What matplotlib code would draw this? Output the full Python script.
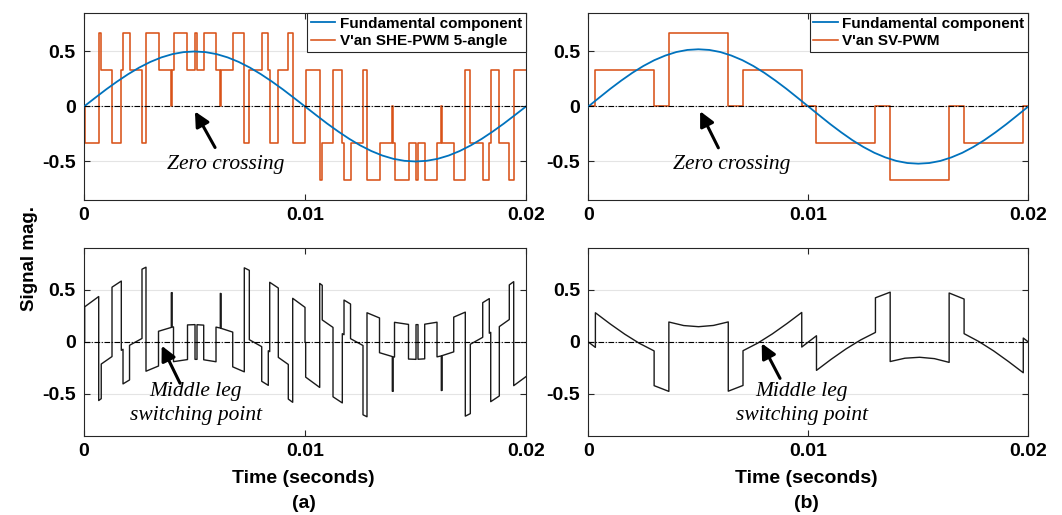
import numpy as np
import matplotlib
matplotlib.use("Agg")
import matplotlib.pyplot as plt

plt.rcParams["font.family"] = ["Liberation Sans", "DejaVu Sans"]
plt.rcParams["axes.unicode_minus"] = False

BLUE = "#0072BD"
ORANGE = "#D95319"

fund_t = np.linspace(0, 20, 41)
fund_a = [0.000, 0.078, 0.155, 0.227, 0.294, 0.354, 0.405, 0.446, 0.476, 0.494,
          0.500, 0.494, 0.476, 0.446, 0.405, 0.354, 0.294, 0.227, 0.155, 0.078,
          0.000, -0.078, -0.155, -0.227, -0.294, -0.354, -0.405, -0.446, -0.476, -0.494,
          -0.500, -0.494, -0.476, -0.446, -0.405, -0.354, -0.294, -0.227, -0.155, -0.078, 0.000]
fund_b = [0.000, 0.081, 0.161, 0.236, 0.306, 0.368, 0.421, 0.463, 0.495, 0.514,
          0.520, 0.514, 0.495, 0.463, 0.421, 0.368, 0.306, 0.236, 0.161, 0.081,
          0.000, -0.081, -0.161, -0.236, -0.306, -0.368, -0.421, -0.463, -0.495, -0.514,
          -0.520, -0.514, -0.495, -0.463, -0.421, -0.368, -0.306, -0.236, -0.161, -0.081, 0.000]

# (a) SHE-PWM 5-angle: switching instants (ms) and phase voltage level per interval
she_t = [0, 0.03, 0.665, 0.78, 1.267, 1.688, 1.765, 2.06, 2.624, 2.805, 3.371, 3.95, 3.99,
         4.05, 4.683, 5.023, 5.113, 5.416, 5.973, 6.167, 6.207, 6.729, 7.253, 7.48, 8.041,
         8.339, 8.403, 8.792, 9.244, 9.443, 10.0,
         10.03, 10.665, 10.78, 11.267, 11.688, 11.765, 12.06, 12.624, 12.805, 13.371, 13.95,
         13.99, 14.05, 14.683, 15.023, 15.113, 15.416, 15.973, 16.167, 16.207, 16.729, 17.253,
         17.48, 18.041, 18.339, 18.403, 18.792, 19.244, 19.443, 20.0]
she_level = [0, -0.333, 0.667, 0.333, -0.333, 0.333, 0.667, 0.333, -0.333, 0.667, 0.333, 0,
             0.333, 0.667, 0.333, 0.667, 0.333, 0.667, 0.333, 0, 0.333, 0.667, -0.333, 0.333,
             0.667, 0.333, -0.333, 0.333, 0.667, -0.333,
             0, 0.333, -0.667, -0.333, 0.333, -0.333, -0.667, -0.333, 0.333, -0.667, -0.333, 0,
             -0.333, -0.667, -0.333, -0.667, -0.333, -0.667, -0.333, 0, -0.333, -0.667, 0.333,
             -0.333, -0.667, -0.333, 0.333, -0.333, -0.667, 0.333]
# (a) middle leg signal: value at start / end of each interval above
mid_a_start = [0.0, 0.338, -0.563, -0.212, 0.527, -0.080, -0.403, -0.032, 0.700, -0.281,
               0.103, 0.473, 0.142, -0.189, 0.164, -0.167, 0.166, -0.171, 0.143, 0.467,
               0.131, -0.239, 0.713, 0.022, -0.378, -0.084, 0.574, -0.148, -0.549, 0.420,
               0.0, -0.338, 0.563, 0.212, -0.527, 0.080, 0.403, 0.032, -0.700, 0.281,
               -0.103, -0.473, -0.142, 0.189, -0.164, 0.167, -0.166, 0.171, -0.143, -0.467,
               -0.131, 0.239, -0.713, -0.022, 0.378, 0.084, -0.574, 0.148, 0.549, -0.420]
mid_a_end = [0.005, 0.437, -0.545, -0.140, 0.586, -0.070, -0.365, 0.034, 0.719, -0.231,
             0.140, 0.475, 0.145, -0.169, 0.167, -0.167, 0.162, -0.190, 0.134, 0.465,
             0.095, -0.287, 0.689, -0.045, -0.417, -0.093, 0.519, -0.216, -0.580, 0.333,
             -0.005, -0.437, 0.545, 0.140, -0.586, 0.070, 0.365, -0.034, -0.719, 0.231,
             -0.140, -0.475, -0.145, 0.169, -0.167, 0.167, -0.162, 0.190, -0.134, -0.465,
             -0.095, 0.287, -0.689, 0.045, 0.417, 0.093, -0.519, 0.216, 0.580, -0.333]

# (b) SV-PWM
sv_t = [0, 0.32, 2.99, 3.66, 6.36, 7.03, 9.70, 10.37, 13.05, 13.72, 16.40, 17.08, 19.77, 20.0]
sv_level = [0, 0.333, 0, 0.667, 0, 0.333, 0, -0.333, 0, -0.667, 0, -0.333, 0]
mid_b_t = [0, 0.32, 0.32, 0.99, 1.655, 2.32, 2.99, 2.99, 3.66, 3.66, 4.335, 5.01, 5.685, 6.36,
           6.36, 7.03, 7.03, 7.6975, 8.365, 9.0325, 9.70, 9.70, 10.0, 10.37, 10.37, 11.04,
           11.71, 12.38, 13.05, 13.05, 13.72, 13.72, 14.39, 15.06, 15.73, 16.40, 16.40, 17.08,
           17.08, 17.7525, 18.425, 19.0975, 19.77, 19.77, 20.0]
mid_b_v = [0, -0.052, 0.281, 0.174, 0.075, -0.013, -0.086, -0.420, -0.475, 0.192, 0.158,
           0.147, 0.159, 0.193, -0.473, -0.418, -0.084, -0.011, 0.078, 0.178, 0.284, -0.049,
           0.0, 0.060, -0.273, -0.166, -0.067, 0.020, 0.092, 0.425, 0.479, -0.188, -0.156,
           -0.147, -0.160, -0.196, 0.471, 0.413, 0.080, 0.004, -0.086, -0.188, -0.296, 0.038, 0.0]

TICK_FS = 14
NOTE_FS = 15.5
SERIF = ["Liberation Serif", "DejaVu Serif"]


def style(ax, ylim):
    ax.set_xlim(0, 0.02)
    ax.set_ylim(*ylim)
    ax.set_xticks([0, 0.01, 0.02])
    ax.set_xticklabels(["0", "0.01", "0.02"])
    ax.set_yticks([-0.5, 0, 0.5])
    ax.set_yticklabels(["-0.5", "0", "0.5"])
    ax.yaxis.grid(True, color="#e4e4e4", lw=0.8)
    ax.set_axisbelow(True)
    ax.tick_params(direction="in", top=True, right=True, length=4, width=0.8,
                   labelsize=TICK_FS, color="#262626")
    ax.tick_params(axis="x", pad=5)
    ax.tick_params(axis="y", pad=6)
    for lab in ax.get_xticklabels() + ax.get_yticklabels():
        lab.set_fontweight("bold")
    for s in ax.spines.values():
        s.set_color("#262626")
        s.set_linewidth(0.8)
    ax.plot([0, 0.02], [0, 0], color="k", lw=0.8, linestyle=(0, (5, 1.5, 1, 1.5)), zorder=4)


def arrow(ax, head, tail):
    ax.annotate("", xy=head, xytext=tail,
                arrowprops=dict(arrowstyle="-|>", color="k", lw=2.2, mutation_scale=22,
                                shrinkA=0, shrinkB=0), zorder=6)


def legend(ax):
    leg = ax.legend(loc="upper right", borderaxespad=0, fancybox=False, edgecolor="#262626",
                    framealpha=1, prop=dict(weight="bold", size=11), handlelength=1.6,
                    handletextpad=0.3, labelspacing=0.2, borderpad=0.25)
    leg.get_frame().set_linewidth(0.8)
    leg.set_zorder(10)


fig = plt.figure(figsize=(10.62, 5.15), dpi=100)
ax_a1 = fig.add_axes([0.0791, 0.6117, 0.4162, 0.3631])
ax_b1 = fig.add_axes([0.5540, 0.6117, 0.4143, 0.3631])
ax_a2 = fig.add_axes([0.0791, 0.1542, 0.4162, 0.3635])
ax_b2 = fig.add_axes([0.5540, 0.1542, 0.4143, 0.3635])

ft = fund_t / 1000

# (a) top
ta = np.array(she_t) / 1000
ax_a1.plot(ft, fund_a, color=BLUE, lw=1.3, label="Fundamental component", zorder=3)
ax_a1.step(ta, she_level + [she_level[-1]], where="post", color=ORANGE, lw=1.15,
           label="V'an SHE-PWM 5-angle", zorder=2)
style(ax_a1, (-0.85, 0.85))
legend(ax_a1)
arrow(ax_a1, (0.00502, -0.045), (0.00593, -0.373))
ax_a1.text(0.00643, -0.527, "Zero crossing", family=SERIF, style="italic", size=NOTE_FS,
           ha="center", va="center")

# (b) top
tb = np.array(sv_t) / 1000
ax_b1.plot(ft, fund_b, color=BLUE, lw=1.3, label="Fundamental component", zorder=3)
ax_b1.step(tb, sv_level + [sv_level[-1]], where="post", color=ORANGE, lw=1.15,
           label="V'an SV-PWM", zorder=2)
style(ax_b1, (-0.85, 0.85))
legend(ax_b1)
arrow(ax_b1, (0.00508, -0.043), (0.00591, -0.376))
ax_b1.text(0.00651, -0.527, "Zero crossing", family=SERIF, style="italic", size=NOTE_FS,
           ha="center", va="center")

# (a) bottom
xs = np.repeat(ta, 2)[1:-1]
ys = np.column_stack([mid_a_start, mid_a_end]).ravel()
ax_a2.plot(xs, ys, color="#1a1a1a", lw=1.0, zorder=3)
style(ax_a2, (-0.9, 0.9))
arrow(ax_a2, (0.003515, -0.036), (0.004344, -0.397))
ax_a2.text(0.00506, -0.59, "Middle leg\nswitching point", family=SERIF, style="italic",
           size=NOTE_FS, ha="center", va="center", linespacing=1.4)

# (b) bottom
ax_b2.plot(np.array(mid_b_t) / 1000, mid_b_v, color="#1a1a1a", lw=1.0, zorder=3)
style(ax_b2, (-0.9, 0.9))
arrow(ax_b2, (0.00788, -0.013), (0.008714, -0.35))
ax_b2.text(0.0097, -0.59, "Middle leg\nswitching point", family=SERIF, style="italic",
           size=NOTE_FS, ha="center", va="center", linespacing=1.4)

fig.text(0.028, 0.499, "Signal mag.", rotation=90, ha="center", va="center",
         weight="bold", size=13.5)
for xc, tag in [(0.286, "(a)"), (0.759, "(b)")]:
    fig.text(xc, 0.070, "Time (seconds)", ha="center", va="center", weight="bold", size=14)
    fig.text(xc, 0.0233, tag, ha="center", va="center", weight="bold", size=14)

fig.savefig("out.png", dpi=100)
